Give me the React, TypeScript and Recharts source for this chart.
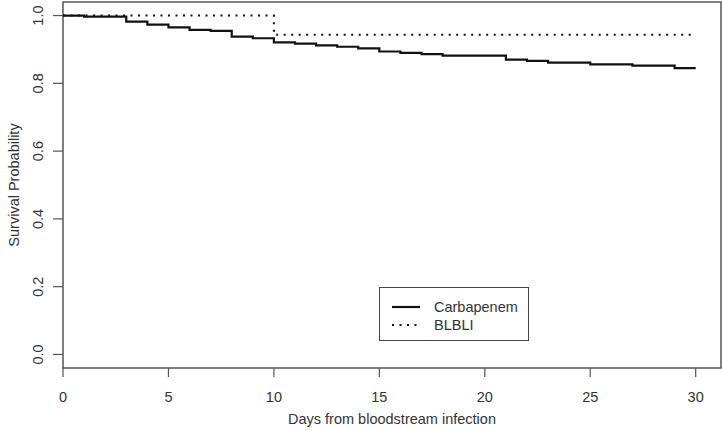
import React from "react";
import { LineChart, Line, XAxis, YAxis, ReferenceArea, Legend } from "recharts";

const carbapenemDays = [0, 1, 3, 4, 5, 6, 7, 8, 9, 10, 11, 12, 13, 14, 15, 16, 17, 18, 21, 22, 23, 25, 27, 29, 30];
const carbapenemSurvival = [
  1, 0.997, 0.982, 0.973, 0.965, 0.958, 0.955, 0.938, 0.933, 0.921, 0.917, 0.912, 0.908,
  0.903, 0.894, 0.89, 0.886, 0.882, 0.87, 0.866, 0.861, 0.856, 0.852, 0.845, 0.845,
];
const blbliDays = [0, 10, 30];
const blbliSurvival = [1, 0.943, 0.943];

const xTicks = [0, 5, 10, 15, 20, 25, 30];
const yTicks = [0, 0.2, 0.4, 0.6, 0.8, 1.0];
const seriesNames = ["Carbapenem", "BLBLI"];

const FONT = '"Liberation Sans", Arial, sans-serif';
const TEXT = "#333";
const AXIS = "#555";

const carbapenemData = carbapenemDays.map((day, i) => ({ day, s: carbapenemSurvival[i] }));
const blbliData = blbliDays.map((day, i) => ({ day, s: blbliSurvival[i] }));

const XTick = (props: any) => {
  const { x, payload } = props;
  return (
    <text x={x} y={397} textAnchor="middle" dominantBaseline="central" fill={TEXT} fontSize={14.5} fontFamily={FONT}>
      {payload.value}
    </text>
  );
};

const YTick = (props: any) => {
  const { y, payload } = props;
  const cx = 38;
  return (
    <text
      x={cx}
      y={y}
      transform={`rotate(-90, ${cx}, ${y})`}
      textAnchor="middle"
      dominantBaseline="central"
      fill={TEXT}
      fontSize={14.5}
      fontFamily={FONT}
    >
      {Number(payload.value).toFixed(1)}
    </text>
  );
};

// legend box like R's legend(): solid + dotted samples
const renderLegend = () => (
  <div
    style={{
      position: "relative",
      width: 150,
      height: 54,
      border: "1.5px solid #444",
      boxSizing: "border-box",
      background: "#fff",
      fontFamily: FONT,
      fontSize: 14.5,
      color: TEXT,
    }}
  >
    <svg width={150} height={54} style={{ position: "absolute", left: -1.5, top: -1.5 }}>
      <line x1={13} x2={41} y1={20} y2={20} stroke="#111" strokeWidth={2.2} />
      <line x1={13} x2={41} y1={38} y2={38} stroke="#111" strokeWidth={2} strokeDasharray="2 5.5" />
      <text x={55} y={20} dominantBaseline="central" fill={TEXT} fontSize={14.5} fontFamily={FONT}>
        {seriesNames[0]}
      </text>
      <text x={55} y={38} dominantBaseline="central" fill={TEXT} fontSize={14.5} fontFamily={FONT}>
        {seriesNames[1]}
      </text>
    </svg>
  </div>
);

export default function App() {
  return (
    <div style={{ position: "absolute", left: 0, top: 0, background: "#fff" }}>
      <LineChart width={722} height={430} margin={{ top: 2, right: 1, bottom: 0, left: 0 }}>
        <XAxis
          dataKey="day"
          type="number"
          domain={[0, 31.2]}
          ticks={xTicks}
          allowDataOverflow
          axisLine={false}
          tickLine={{ stroke: AXIS, strokeWidth: 1.2 }}
          tickSize={9}
          tick={<XTick />}
          height={62}
          label={{
            value: "Days from bloodstream infection",
            position: "insideBottom",
            offset: 6,
            fill: TEXT,
            fontSize: 14.5,
            fontFamily: FONT,
          }}
        />
        <YAxis
          type="number"
          domain={[-0.04, 1.04]}
          ticks={yTicks}
          allowDataOverflow
          axisLine={false}
          tickLine={{ stroke: AXIS, strokeWidth: 1.2 }}
          tickSize={10}
          tick={<YTick />}
          width={63}
          label={{
            value: "Survival Probability",
            angle: -90,
            position: "insideLeft",
            offset: 14,
            fill: TEXT,
            fontSize: 14.5,
            fontFamily: FONT,
            style: { textAnchor: "middle" },
          }}
        />
        <ReferenceArea
          x1={0}
          x2={31.2}
          y1={-0.04}
          y2={1.04}
          fill="none"
          fillOpacity={0}
          stroke={AXIS}
          strokeWidth={1.5}
          ifOverflow="visible"
        />
        <Line
          data={blbliData}
          dataKey="s"
          name={seriesNames[1]}
          type="stepAfter"
          stroke="#111"
          strokeWidth={2}
          strokeDasharray="2 5.5"
          dot={false}
          isAnimationActive={false}
        />
        <Line
          data={carbapenemData}
          dataKey="s"
          name={seriesNames[0]}
          type="stepAfter"
          stroke="#111"
          strokeWidth={2.2}
          dot={false}
          isAnimationActive={false}
        />
        <Legend
          layout="vertical"
          align="center"
          verticalAlign="middle"
          content={renderLegend}
          wrapperStyle={{ left: 379, top: 287, width: 150, height: 54 }}
        />
      </LineChart>
    </div>
  );
}
